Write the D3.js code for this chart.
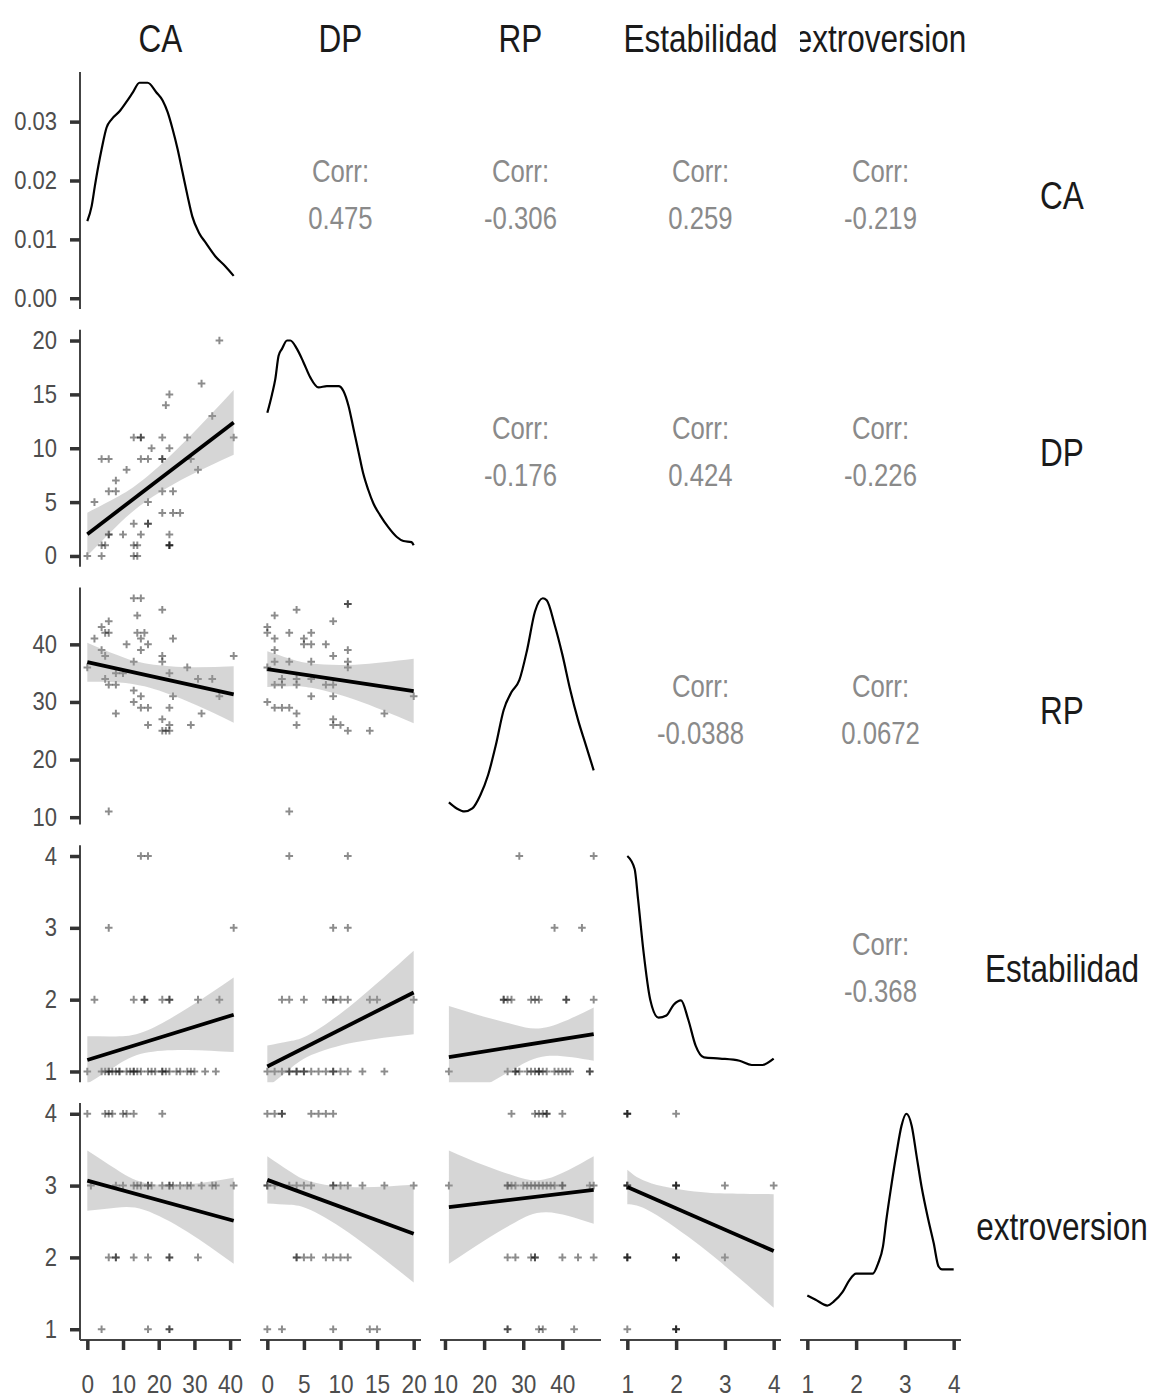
<!DOCTYPE html>
<html><head><meta charset="utf-8">
<script src="https://cdn.jsdelivr.net/npm/d3@7"></script>
<style>body{margin:0;background:#fff}svg{display:block}</style>
</head><body>
<svg id="c" width="1149" height="1398"></svg>
<script>
// ---------- data ----------
const variables = ["CA","DP","RP","Estabilidad","extroversion"];
const varDomains = [[0,41],[0,20],[10.6,48],[1,4],[1,4]];
const axisTicks = [[0,10,20,30,40],[0,5,10,15,20],[10,20,30,40],[1,2,3,4],[1,2,3,4]];
const densityTicks = [0,0.01,0.02,0.03];
const corrRows = [0,0,0,0,1,1,1,2,2,3];
const corrCols = [1,2,3,4,2,3,4,3,4,4];
const corrValues = ["0.475","-0.306","0.259","-0.219","-0.176","0.424","-0.226","-0.0388","0.0672","-0.368"];

// diagonal densities
const densCA_x = [0,1.2,2.1,3.1,4.0,5.4,6.8,9.1,10.9,12.8,14.6,16.9,19.3,21.1,22.5,23.9,25.3,26.7,28.1,29.4,31.3,33.2,35.9,38.7,41];
const densCA_y = [0.0131,0.0156,0.0190,0.0225,0.0253,0.0290,0.0304,0.0318,0.0333,0.0350,0.0366,0.0366,0.0350,0.0336,0.0316,0.0287,0.0253,0.0213,0.0173,0.0139,0.0111,0.0094,0.0071,0.0054,0.0038];
const densDP_x = [0,0.64,1.09,1.54,2.0,2.69,3.14,4.05,4.95,5.87,7.0,8.14,9.73,10.4,11.1,11.8,12.5,13.1,13.8,14.5,15.4,16.5,17.7,18.6,19.7,20];
const densDP_y = [0.0497,0.0561,0.0614,0.0695,0.0719,0.0748,0.0748,0.0719,0.0672,0.0620,0.0585,0.0590,0.0590,0.0573,0.0521,0.0439,0.0357,0.0287,0.0229,0.0182,0.0142,0.0101,0.0066,0.0052,0.0048,0.0037];
const densRP_x = [11,13,15,17,19,21,23,25,27,29,31,33,35,36,38,40,42,44,46,48];
const densRP_y = [0.0034,0.0016,0.0007,0.0016,0.0055,0.0116,0.0207,0.0313,0.0367,0.0403,0.0495,0.0610,0.0650,0.0644,0.0571,0.0480,0.0374,0.0283,0.0207,0.0131];
const densEst_x = [1,1.15,1.22,1.33,1.47,1.64,1.8,1.95,2.1,2.25,2.4,2.57,2.9,3.3,3.55,3.75,4.0];
const densEst_y = [1.50,1.41,1.20,0.84,0.50,0.375,0.39,0.465,0.495,0.36,0.18,0.098,0.09,0.075,0.045,0.045,0.09];
const densExt_x = [1.0,1.17,1.41,1.55,1.72,1.86,2.0,2.34,2.45,2.55,2.62,2.72,2.83,2.93,3.03,3.14,3.24,3.34,3.48,3.59,3.69,3.76,4.0];
const densExt_y = [0.251,0.219,0.176,0.208,0.275,0.363,0.413,0.413,0.488,0.613,0.813,1.062,1.312,1.510,1.600,1.510,1.286,1.062,0.813,0.640,0.466,0.445,0.445];

// scatter points [x, y]
const pts_DP_CA = [[0,0],[4,0],[13,0],[14,0],[4,1],[5,1],[13,1],[14,1],[23,1],[23,1],[23,1],[6,2],[6,2],[10,2],[15,2],[23,2],[13,3],[17,3],[17,3],[2,5],[17,5],[21,4],[24,4],[26,4],[6,6],[8,6],[21,6],[24,6],[8,7],[11,8],[31,8],[4,9],[6,9],[15,9],[17,9],[21,9],[21,9],[29,9],[18,10],[23,10],[13,11],[15,11],[15,11],[21,11],[28,11],[41,11],[35,13],[22,14],[23,15],[32,16],[37,20]];
const pts_RP_CA = [[2,41],[0,36],[4,43],[5,42],[6,44],[6,42],[4,39],[5,38],[5,34],[6,33],[8,33],[8,35],[8,28],[10,35],[11,40],[13,48],[15,48],[14,45],[14,42],[16,42],[15,41],[15,39],[17,40],[13,37],[13,32],[15,31],[13,30],[15,29],[17,29],[17,26],[21,46],[21,37],[21,38],[21,27],[21,25],[22,25],[23,25],[23,26],[23,29],[24,31],[23,35],[24,41],[28,36],[29,26],[31,34],[32,28],[35,34],[37,31],[41,38],[6,11]];
const pts_RP_DP = [[11,47],[11,47],[1,45],[4,46],[0,43],[0,42],[3,42],[9,44],[1,41],[5,41],[6,42],[6,40],[5,40],[8,40],[1,39],[1,37],[9,38],[11,39],[11,37],[3,37],[6,37],[0,36],[11,36],[2,34],[4,34],[4,33],[6,34],[6,31],[8,33],[9,33],[1,33],[2,33],[9,31],[0,30],[1,29],[2,29],[3,29],[4,28],[4,26],[9,27],[9,26],[10,26],[11,25],[14,25],[16,28],[20,31],[3,11]];
const pts_Est_CA = [[15,4],[17,4],[6,3],[41,3],[2,2],[13,2],[16,2],[16,2],[21,2],[23,2],[23,2],[31,2],[37,2],[0,1],[4,1],[5,1],[6,1],[6,1],[7,1],[8,1],[9,1],[9,1],[11,1],[12,1],[13,1],[13,1],[14,1],[15,1],[17,1],[18,1],[19,1],[21,1],[21,1],[22,1],[23,1],[25,1],[26,1],[28,1],[29,1],[30,1],[33,1],[36,1]];
const pts_Est_DP = [[3,4],[11,4],[9,3],[11,3],[2,2],[3,2],[5,2],[8,2],[9,2],[9,2],[10,2],[11,2],[14,2],[15,2],[20,2],[0,1],[1,1],[2,1],[3,1],[3,1],[4,1],[4,1],[5,1],[5,1],[6,1],[7,1],[8,1],[9,1],[9,1],[10,1],[11,1],[13,1],[16,1]];
const pts_Est_RP = [[29,4],[48,4],[38,3],[45,3],[25,2],[25,2],[26,2],[27,2],[32,2],[33,2],[34,2],[41,2],[41,2],[48,2],[11,1],[26,1],[28,1],[28,1],[29,1],[31,1],[32,1],[33,1],[34,1],[34,1],[35,1],[36,1],[38,1],[39,1],[40,1],[41,1],[42,1],[47,1],[47,1]];
const pts_Ext_CA = [[0,4],[5,4],[6,4],[7,4],[10,4],[11,4],[13,4],[21,4],[1,3],[8,3],[10,3],[13,3],[14,3],[15,3],[17,3],[17,3],[18,3],[21,3],[23,3],[23,3],[24,3],[26,3],[28,3],[29,3],[32,3],[35,3],[36,3],[41,3],[6,2],[8,2],[8,2],[13,2],[17,2],[23,2],[23,2],[31,2],[4,1],[17,1],[23,1],[23,1]];
const pts_Ext_DP = [[0,4],[1,4],[2,4],[2,4],[6,4],[7,4],[8,4],[9,4],[0,3],[0,3],[1,3],[3,3],[4,3],[5,3],[6,3],[9,3],[9,3],[10,3],[11,3],[13,3],[16,3],[20,3],[4,2],[4,2],[5,2],[6,2],[8,2],[9,2],[10,2],[11,2],[0,1],[2,1],[9,1],[14,1],[15,1]];
const pts_Ext_RP = [[27,4],[33,4],[34,4],[35,4],[36,4],[36,4],[40,4],[11,3],[26,3],[26,3],[27,3],[28,3],[30,3],[31,3],[32,3],[33,3],[34,3],[35,3],[36,3],[37,3],[38,3],[40,3],[40,3],[47,3],[48,3],[26,2],[28,2],[32,2],[33,2],[33,2],[40,2],[44,2],[48,2],[26,1],[26,1],[34,1],[35,1],[43,1]];
const pts_Ext_Est = [[1,4],[1,4],[1,4],[2,4],[1,3],[1,3],[1,3],[2,3],[2,3],[2,3],[3,3],[4,3],[1,2],[1,2],[1,2],[2,2],[2,2],[2,2],[3,2],[1,1],[2,1],[2,1],[2,1]];

// linear fits: [x, fit, lower, upper]
const fit_DP_CA = [[0,2.02,0.02,4.02],[8,4.05,2.69,5.41],[16,6.07,4.97,7.17],[28,9.11,7.35,10.87],[41,12.4,9.4,15.4]];
const fit_RP_CA = [[0,36.9,33.5,40.3],[8,35.81,33.4,38.22],[16,34.71,32.71,36.71],[28,33.08,30.12,36.04],[41,31.3,26.4,36.2]];
const fit_RP_DP = [[0,35.7,32.6,38.8],[3,35.13,32.73,37.53],[6,34.56,32.46,36.66],[12,33.42,30.37,36.47],[20,31.9,26.3,37.5]];
const fit_Est_CA = [[0,1.16,0.83,1.49],[8,1.283,1.078,1.488],[16,1.406,1.256,1.556],[28,1.59,1.30,1.88],[41,1.79,1.27,2.31]];
const fit_Est_DP = [[0,1.07,0.78,1.36],[3,1.225,1.029,1.421],[6,1.379,1.229,1.529],[12,1.688,1.408,1.968],[20,2.10,1.52,2.68]];
const fit_Est_RP = [[11,1.20,0.49,1.91],[20,1.278,0.795,1.761],[28,1.347,1.046,1.648],[36,1.416,1.216,1.616],[48,1.52,1.15,1.89]];
const fit_Ext_CA = [[0,3.07,2.65,3.49],[8,2.961,2.692,3.23],[16,2.851,2.661,3.041],[28,2.688,2.358,3.018],[41,2.51,1.91,3.11]];
const fit_Ext_DP = [[0,3.08,2.75,3.41],[3,2.968,2.732,3.204],[6,2.855,2.655,3.055],[12,2.63,2.282,2.978],[20,2.33,1.65,3.01]];
const fit_Ext_RP = [[11,2.70,1.91,3.49],[20,2.758,2.233,3.283],[28,2.81,2.491,3.129],[36,2.862,2.63,3.094],[48,2.94,2.47,3.41]];
const fit_Ext_Est = [[1,2.98,2.74,3.22],[1.5,2.83,2.63,3.03],[2.5,2.535,2.16,2.91],[3.25,2.312,1.737,2.887],[4,2.09,1.30,2.88]];

// ---------- layout ----------
const FONT = "'Liberation Sans', Arial, sans-serif";
const PW = 161, PH = 237;
const colLeft = j => 80 + 180 * j;
const rowTop = i => 72 + 257.75 * i;
const expand = d => { const r = d[1] - d[0]; return [d[0] - 0.05 * r, d[1] + 0.05 * r]; };
const xS = j => d3.scaleLinear().domain(expand(varDomains[j])).range([colLeft(j), colLeft(j) + PW]);
const yS = i => d3.scaleLinear().domain(expand(varDomains[i])).range([rowTop(i) + PH, rowTop(i)]);

const svg = d3.select("#c");
const defs = svg.append("defs");
const clipId = (i, j) => `clip-${i}-${j}`;
for (let i = 0; i < 5; i++) for (let j = 0; j < 5; j++) {
  defs.append("clipPath").attr("id", clipId(i, j)).append("rect")
    .attr("x", colLeft(j)).attr("y", rowTop(i)).attr("width", PW).attr("height", PH);
}
defs.append("clipPath").attr("id", "stripclip5").append("rect")
  .attr("x", colLeft(4)).attr("y", 0).attr("width", 166).attr("height", 70);

function ntext(g, x, y, txt, size, anchor, color, sx) {
  return g.append("text")
    .attr("transform", `translate(${x},${y}) scale(${sx},1)`)
    .attr("text-anchor", anchor)
    .attr("font-family", FONT).attr("font-size", size)
    .attr("fill", color).text(txt);
}

// ---------- diagonal densities ----------
const diag = [[densCA_x, densCA_y],[densDP_x, densDP_y],[densRP_x, densRP_y],[densEst_x, densEst_y],[densExt_x, densExt_y]];
const densYScales = [];
diag.forEach(([dx, dy], k) => {
  const x = xS(k);
  const y = d3.scaleLinear().domain(expand([0, d3.max(dy)])).range([rowTop(k) + PH, rowTop(k)]);
  densYScales.push(y);
  const line = d3.line().x((d, i) => x(dx[i])).y(d => y(d)).curve(d3.curveMonotoneX);
  svg.append("g").attr("clip-path", `url(#${clipId(k, k)})`)
    .append("path").attr("d", line(dy)).attr("fill", "none")
    .attr("stroke", "#000").attr("stroke-width", 2.2);
});

// ---------- scatter panels ----------
const scatter = [
  [1,0,pts_DP_CA,fit_DP_CA],[2,0,pts_RP_CA,fit_RP_CA],[2,1,pts_RP_DP,fit_RP_DP],
  [3,0,pts_Est_CA,fit_Est_CA],[3,1,pts_Est_DP,fit_Est_DP],[3,2,pts_Est_RP,fit_Est_RP],
  [4,0,pts_Ext_CA,fit_Ext_CA],[4,1,pts_Ext_DP,fit_Ext_DP],[4,2,pts_Ext_RP,fit_Ext_RP],[4,3,pts_Ext_Est,fit_Ext_Est]
];
scatter.forEach(([r, c, pts, fit]) => {
  const x = xS(c), y = yS(r);
  const g = svg.append("g").attr("clip-path", `url(#${clipId(r, c)})`);
  g.selectAll("path.pt").data(pts).join("path").attr("class", "pt")
    .attr("d", d => { const px = x(d[0]), py = y(d[1]); return `M${px-3.8},${py}h7.6M${px},${py-3.8}v7.6`; })
    .attr("stroke", "#000").attr("stroke-opacity", 0.45).attr("stroke-width", 2).attr("fill", "none");
  const area = d3.area().x(d => x(d[0])).y0(d => y(d[2])).y1(d => y(d[3])).curve(d3.curveNatural);
  g.append("path").attr("d", area(fit)).attr("fill", "#999999").attr("fill-opacity", 0.4);
  const first = fit[0], last = fit[fit.length - 1];
  g.append("line").attr("x1", x(first[0])).attr("y1", y(first[1]))
    .attr("x2", x(last[0])).attr("y2", y(last[1]))
    .attr("stroke", "#000").attr("stroke-width", 3.8);
});

// ---------- correlation texts ----------
corrValues.forEach((v, k) => {
  const r = corrRows[k], c = corrCols[k];
  const cx = colLeft(c) + PW / 2, cy = rowTop(r) + PH / 2;
  ntext(svg, cx, cy - 9, "Corr:", 31, "middle", "#8a8a8a", 0.83);
  ntext(svg, cx, cy + 38, v, 31, "middle", "#8a8a8a", 0.83);
});

// ---------- axes ----------
function styleAxis(g) {
  g.select(".domain").attr("stroke", "#444").attr("stroke-width", 2);
  g.selectAll(".tick line").attr("stroke", "#333").attr("stroke-width", 3.5);
}
for (let i = 0; i < 5; i++) {
  const sc = i === 0 ? densYScales[0] : yS(i);
  const tv = i === 0 ? densityTicks : axisTicks[i];
  const ax = d3.axisLeft(sc).tickValues(tv).tickSize(10).tickSizeOuter(0)
    .tickFormat(i === 0 ? d3.format(".2f") : d3.format("d"));
  const g = svg.append("g").attr("transform", `translate(${colLeft(0)},0)`).call(ax);
  g.select(".domain").attr("d", `M0,${rowTop(i)}V${rowTop(i) + PH}`);
  styleAxis(g);
  g.selectAll(".tick text").attr("x", null).attr("dy", null)
    .attr("transform", "translate(-23,8) scale(0.88,1)")
    .attr("font-family", FONT).attr("font-size", 25).attr("fill", "#4d4d4d");
}
for (let j = 0; j < 5; j++) {
  const ax = d3.axisBottom(xS(j)).tickValues(axisTicks[j]).tickSize(10).tickSizeOuter(0).tickFormat(d3.format("d"));
  const g = svg.append("g").attr("transform", `translate(0,${rowTop(4) + PH})`).call(ax);
  g.select(".domain").attr("d", `M${colLeft(j)},0H${colLeft(j) + PW}`);
  styleAxis(g);
  g.selectAll(".tick text").attr("y", null).attr("dy", null)
    .attr("transform", "translate(0,53) scale(0.87,1)")
    .attr("font-family", FONT).attr("font-size", 26).attr("fill", "#4d4d4d");
}

// ---------- strip labels ----------
variables.forEach((v, j) => {
  const g = j === 4 ? svg.append("g").attr("clip-path", "url(#stripclip5)") : svg;
  ntext(g, colLeft(j) + PW / 2, 52, v, 38, "middle", "#1a1a1a", 0.83);
});
variables.forEach((v, i) => {
  ntext(svg, 1062, rowTop(i) + PH / 2 + 18, v, 38, "middle", "#1a1a1a", 0.83);
});
</script>
</body></html>
